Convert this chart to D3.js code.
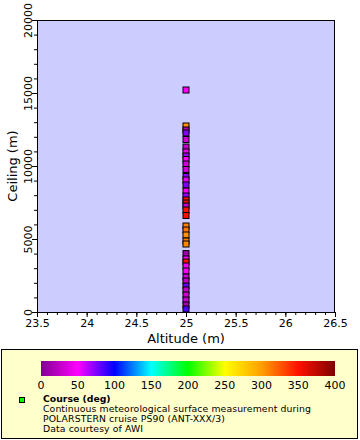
<!DOCTYPE html>
<html><head><meta charset="utf-8">
<script src="https://cdn.jsdelivr.net/npm/d3@7"></script>
<style>body{margin:0;background:#fff;font-family:"DejaVu Sans",sans-serif;}</style>
</head><body>
<svg id="c" width="360" height="440"></svg>
<script>
// Data
const altitude = [25,25,25,25,25,25,25,25,25,25,25,25,25,25,25,25,25,25,25,25,25,25,25,25,25,25,25,25,25,25,25,25,25,25,25,25,25,25,25];
const ceiling  = [15205,12740,12466,12260,11815,11300,10960,10685,10445,10137,9760,9280,9040,8700,8287,7945,7670,7465,7260,6986,6610,5890,5616,5274,4863,4657,4000,3630,3425,3150,2808,2397,2123,1780,1507,1164,822,479,205];
const course   = [50,305,20,75,30,25,40,70,50,30,30,72,55,75,52,72,350,355,25,350,352,310,315,305,312,308,10,50,350,52,50,30,25,80,25,30,25,15,85];
const xTicks = [23.5,24,24.5,25,25.5,26,26.5];
const yTicks = [0,5000,10000,15000,20000];
const cbTicks = [0,50,100,150,200,250,300,350,400];
const cbColors = ["#800090","#ff00ff","#0000ff","#00ffff","#00ff00","#ffff00","#ffa000","#ff1000","#800000"];
const legendLines = ["Continuous meteorological surface measurement during","POLARSTERN cruise PS90 (ANT-XXX/3)","Data courtesy of AWI"];

const svg = d3.select("#c");
const L=37,R=335,T=20,B=312;
const x = d3.scaleLinear().domain([23.5,26.5]).range([L,R]);
const y = d3.scaleLinear().domain([0,20000]).range([B,T]);
const color = d3.scaleLinear().domain(cbTicks).range(cbColors).clamp(true);

svg.append("rect").attr("x",L).attr("y",T).attr("width",R-L).attr("height",B-T).attr("fill","#ccccff");

// x axis
const gx = svg.append("g").attr("transform",`translate(0,${B})`);
gx.append("g").call(d3.axisBottom(x).tickValues(d3.range(235,266,1).map(d=>d/10)).tickSize(3).tickFormat("")).call(g=>g.select(".domain").remove());
gx.append("g").call(d3.axisBottom(x).tickValues(xTicks).tickSize(5).tickSizeOuter(0).tickFormat(d3.format("")))
  .call(g=>g.selectAll("text").attr("font-size",11).attr("font-family","DejaVu Sans").attr("dy","0.71em").attr("y",7));
gx.selectAll("path,line").attr("stroke","#000");

// y axis
const gy = svg.append("g").attr("transform",`translate(${L},0)`);
gy.append("g").call(d3.axisLeft(y).tickValues(d3.range(0,20001,1000)).tickSize(3).tickFormat("")).call(g=>g.select(".domain").remove());
const gy2 = gy.append("g");
gy2.call(d3.axisLeft(y).tickValues(yTicks).tickSize(5).tickSizeOuter(0).tickFormat(d3.format("")));
gy2.selectAll("text").attr("font-size",11).attr("font-family","DejaVu Sans")
  .attr("x",null).attr("dy",null).attr("text-anchor","middle")
  .attr("transform","translate(-5,0) rotate(-90)").attr("y",0);
gy.selectAll("path,line").attr("stroke","#000");
svg.append("line").attr("x1",L).attr("x2",R).attr("y1",T+0.5).attr("y2",T+0.5).attr("stroke","#000");
svg.append("line").attr("x1",R-0.5).attr("x2",R-0.5).attr("y1",T).attr("y2",B).attr("stroke","#000");

svg.append("text").attr("x",(L+R)/2).attr("y",343).attr("text-anchor","middle").attr("font-size",13).text("Altitude (m)");
svg.append("text").attr("transform",`translate(17,${(T+B)/2}) rotate(-90)`).attr("text-anchor","middle").attr("font-size",13).text("Ceiling (m)");

// points
svg.append("g").selectAll("rect").data(ceiling).join("rect")
  .attr("x",(d,i)=>x(altitude[i])-3).attr("y",d=>y(d)-3).attr("width",6).attr("height",6)
  .attr("fill",(d,i)=>color(course[i])).attr("stroke","#000").attr("stroke-width",1);

// legend
svg.append("rect").attr("x",1.5).attr("y",349.5).attr("width",356).attr("height",89).attr("fill","#ffffcc").attr("stroke","#000");
const cx = d3.scaleLinear().domain([0,400]).range([41,335]);
const defs = svg.append("defs");
const grad = defs.append("linearGradient").attr("id","cb");
cbTicks.forEach((t,i)=>grad.append("stop").attr("offset",(t/400*100)+"%").attr("stop-color",cbColors[i]));
svg.append("rect").attr("x",41).attr("y",361).attr("width",294).attr("height",15).attr("fill","url(#cb)");
svg.append("g").selectAll("text").data(cbTicks).join("text")
  .attr("x",d=>cx(d)).attr("y",389).attr("text-anchor","middle").attr("font-size",11).text(d=>d);
svg.append("rect").attr("x",19.5).attr("y",397.5).attr("width",5).attr("height",5).attr("fill","#00ff00").attr("stroke","#000");
svg.append("text").attr("x",43).attr("y",402).attr("font-size",9.3).attr("font-weight","bold").text("Course (deg)");
svg.append("g").selectAll("text").data(legendLines).join("text")
  .attr("x",43).attr("y",(d,i)=>412+i*10).attr("font-size",9.3).attr("letter-spacing",0.1).text(d=>d);
</script>
</body></html>
